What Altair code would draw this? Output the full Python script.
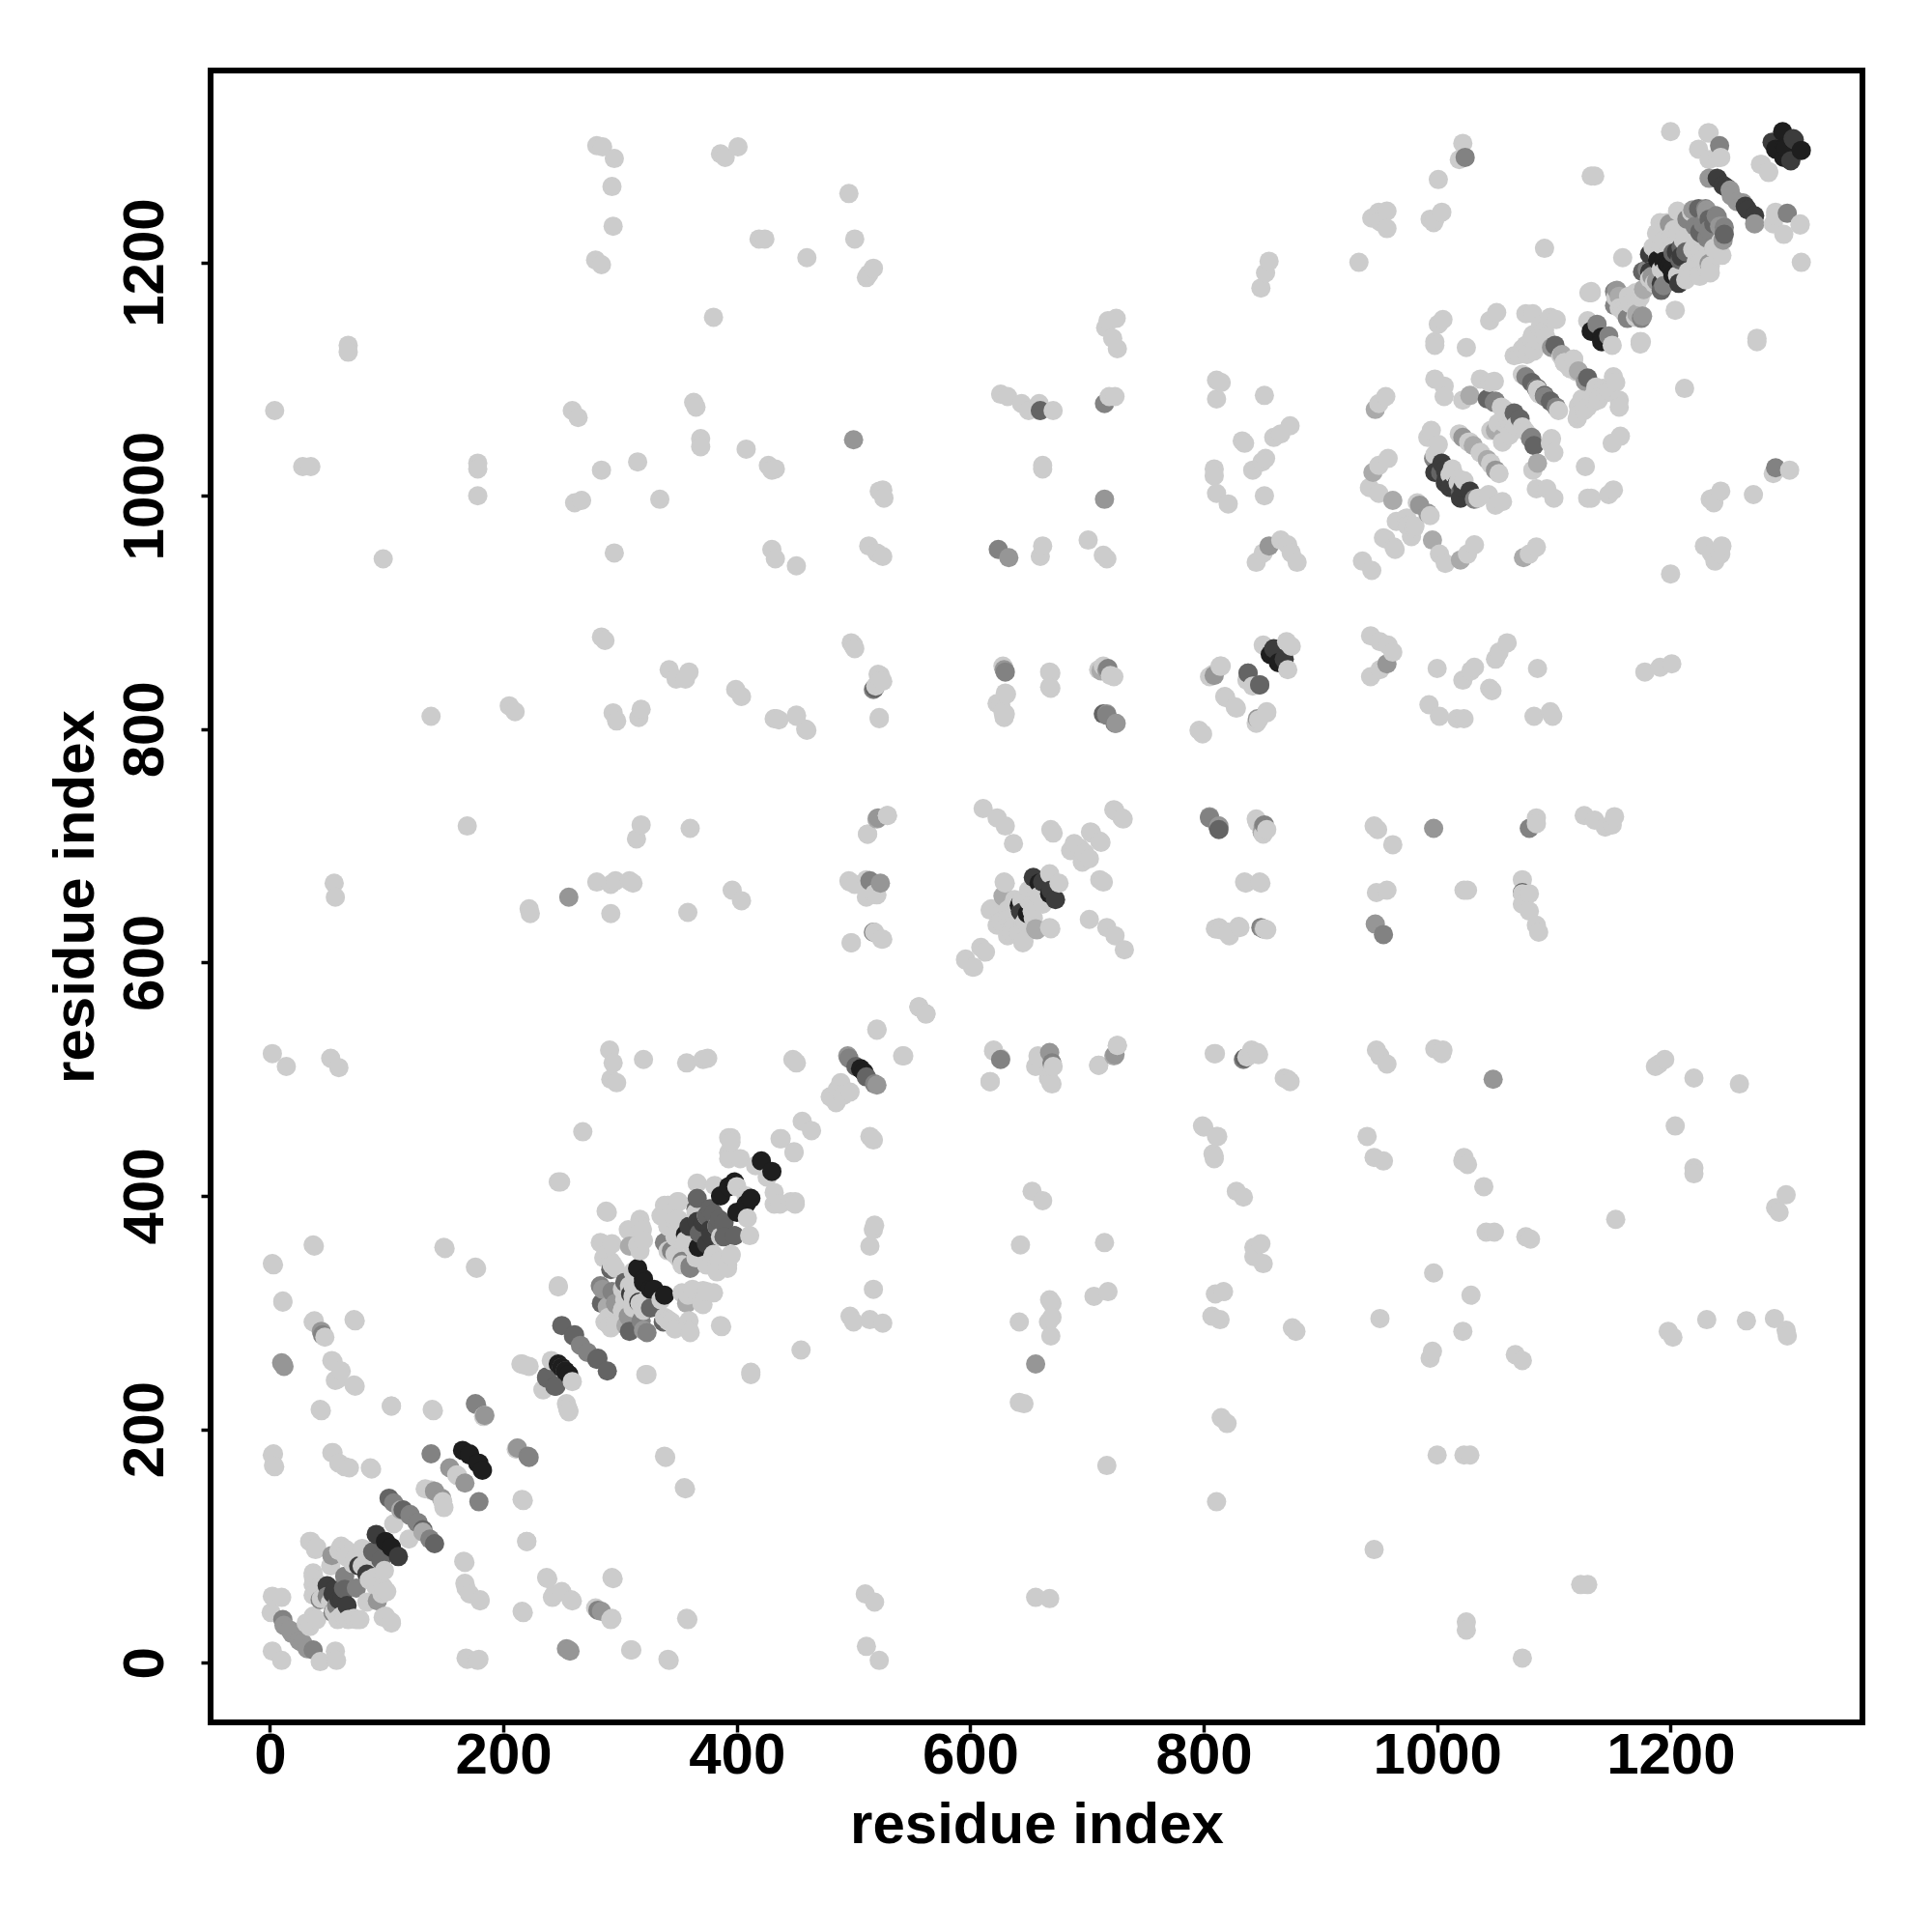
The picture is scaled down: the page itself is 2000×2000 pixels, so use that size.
import altair as alt
import pandas as pd

# Contacts (residue i, residue j) of a symmetric map, grouped by grey level
grey_204 = [
(280,1300),(285,1299),(295,1289),(293,1265),(294,1231),(279,1202),(284,1198),(386,1293),(390,1290),(401,1299),
(419,1220),(424,1220),(380,1153),(67,1129),(67,1123),(4,1073),(28,1025),(35,1025),(178,1028),(178,1023),(178,1000),
(259,1073),(264,1067),(363,1080),(365,1076),(369,1049),(369,1042),(408,1040),(284,1022),(315,1029),(334,997),
(261,994),(267,996),(295,951),(97,946),(496,1259),(501,1220),(460,1204),(517,1195),(513,1190),(511,1187),
(525,1005),(522,1004),(526,998),(427,1026),(430,1022),(433,1023),(430,954),(433,946),(451,940),(513,957),(520,951),(525,948),
(626,1087),(632,1085),(644,1079),(650,1073),(659,1079),(659,1073),(671,1073),(719,1085),(724,1085),(725,1152),(718,1150),
(716,1144),(722,1135),(726,1126),(662,1023),(662,1026),(701,962),(714,949),(717,946),(662,957),(660,948),
(811,1099),(815,1097),(811,1083),(852,1086),(856,1201),(853,1191),(849,1178),(833,1047),(835,1045),(874,1060),(866,1053),
(860,1050),(853,1032),(850,1029),(842,1022),(809,1023),(809,1017),(811,1002),(821,993),(852,1000),(845,943),(851,951),
(866,962),(872,958),(875,951),(880,943),
(1022,1302),(1019,1288),(1001,1271),(950,1243),(944,1238),(957,1244),(957,1229),(951,1235),(998,1237),(1004,1243),
(994,1237),(997,1234),(933,1200),(1092,1212),(1132,1274),(1135,1274),(1200,1312),(1159,1204),(1132,1174),(1130,1174),
(1051,1157),(1045,1150),(1076,1156),(1082,1156),(1005,1151),(1001,1147),(998,1132),(998,1129),(1025,1127),(1097,1153),
(1090,1147),(1082,1138),(1076,1129),(1070,1121),(1174,1132),(1175,1132),(1129,1150),(1233,1311),(1224,1297),(1233,1288),
(1243,1290),(1278,1284),(1284,1277),(1290,1240),(1311,1232),(1206,1244),(1194,1231),(1203,1228),(1188,1225),
(1212,1222),(1219,1211),(1224,1207),(1182,1192),(1159,1159),(1170,1174),(1165,1165),
(1088,1144),(1093,1136),(1106,1120),(1114,1109),(1117,1117),(1073,1104),(1091,1086),(1045,1097),(1057,1074),(1073,1059),
(1022,1082),(1006,1094),(998,1100),(1006,1085),(956,1085),(950,1079),(995,1056),(1001,1044),(1013,1023),(1018,1011),
(958,1032),(950,1026),(942,1007),(950,1002),(965,978),(974,981),(974,975),(980,972),(956,963),(964,954),(994,983),(936,944),
(284,879),(287,876),(138,811),(205,820),(210,815),(294,814),(297,807),(318,817),(316,810),(342,851),(348,843),(356,843),
(359,849),(399,834),(404,828),(169,717),(318,718),(314,706),(360,715),(55,668),(56,656),(222,646),(223,642),
(280,669),(292,667),(296,670),(308,670),(311,668),(292,642),(358,643),(396,662),(404,653),(2,522),(14,511),(52,518),(59,510),
(291,525),(294,514),(292,500),(297,497),(320,517),(357,514),(371,517),(375,518),(268,455),(395,450),(395,446),(393,432),
(500,872),(501,869),(523,846),(525,841),(519,837),(522,809),(434,809),(436,808),(451,811),(460,799),
(629,852),(630,831),(623,822),(630,813),(629,810),(669,848),(669,835),(710,851),(720,846),
(815,854),(805,845),(818,828),(827,819),(842,837),(854,814),(847,808),(796,799),(851,872),(871,875),
(529,726),(512,710),(496,670),(501,667),(520,658),(511,656),(498,617),(525,620),
(611,732),(623,724),(630,717),(637,702),(669,714),(671,711),(704,711),(712,703),(689,702),(686,696),(698,694),(724,730),(731,723),
(630,668),(668,676),(618,646),(626,635),(635,638),(650,653),(669,629),(609,613),(596,602),(603,596),(645,617),
(845,723),(854,714),(836,668),(849,668),(811,629),(821,626),(830,631),(854,628),(815,628),
(448,517),(451,514),(520,542),(543,520),(556,562),(562,556),(487,490),(480,485),(486,491),(489,497),(456,464),(438,449),(449,437),(516,449),
(620,524),(626,518),(617,498),(659,518),(671,511),(669,497),(726,529),(710,512),(810,522),(841,523),(847,521),(871,500),(874,498),
(800,459),(812,451),(809,432),
(249,412),(289,386),(150,355),(177,338),(38,357),(3,341),(11,309),(38,293),(73,293),(47,279),(53,259),(61,250),(56,242),
(73,237),(44,216),(104,220),(140,216),(184,212),(3,179),(4,168),(53,180),(59,171),(68,167),(86,167),(211,183),(217,139),(220,104),
(166,87),(168,64),(180,54),(238,72),(243,58),(258,54),(292,37),(294,72),(217,43),(310,11),(342,2),(358,37),(169,3),(178,2),
(339,176),(356,149),(323,247),(412,247),(216,256),(222,254),(255,218),(256,215),(387,288),(247,322),(259,241),(234,234),
(291,289),(294,341),(291,358),(285,359),(308,370),(318,374),(315,358),(309,320),(317,308),(366,411),(341,392),(350,395),(335,383),
(341,374),(347,350),(374,383),(362,356),(381,409),(393,450),(393,437),(403,432),(408,400),(416,426),
(106,119),(148,138),(133,149),(160,161),(79,98),(83,81),(35,104),(40,99),(59,96),(65,93),(38,72),(37,58),(40,37),(31,34),(10,56),(1,43),(2,10),(287,292),
(1037,1100),(1049,1098),(1055,1076),(1060,1067),(1052,1062),(1058,1062),(1046,1056),(1019,1053),(1027,1046),(1037,1037),(1046,1028),
(992,1050),(998,1035),(1019,1014),(1088,1087),(1081,1135),(1073,1126),(1066,1120),(1109,1114),(1121,1077),(1124,1083),(1134,1086),
(1142,1092),(1151,1102),(1191,1234),(1197,1234),(1200,1222),(1212,1237),(1218,1243),(1221,1213),(1227,1207),(1194,1219),(1185,1213),
(1194,1192),(1206,1189),(1215,1192),(1224,1189),(1164,1171),(1161,1156),(1170,1153),(1182,1186),
(302,320),(314,311),(304,311),(323,311),(302,302),(290,296),(338,296),(341,293),(359,293),(360,283),(353,317),(362,320),(371,319),(380,317),
(371,307),(338,392),(344,385),(347,379),(353,341),(374,341),(383,338),(395,349),(392,341),(380,350),(365,347),(365,386),(286,347),(292,344),
(335,311),(323,308),(311,308),(61,98),(73,89),(79,83),(85,71),(91,65),(97,65),(100,61),(37,77),(40,64),(55,44),(61,40),(52,52),(67,37),(74,37),
(97,39),(104,34),(52,83),(632,645),(638,632),(647,635),(653,644),(659,657),(650,662),(638,654),(626,641),(632,623),(642,626),(2,57),
]
grey_170 = [
(947,1074),(945,1020),(962,996),(1031,1043),(1028,1086),(1050,1056),(1156,1171),(1177,1177),(1121,1107),
(712,850),(657,628),(629,656),(520,723),(112,131),(305,289),(357,308),
]
grey_150 = [
(500,1048),(715,997),(633,947),(856,957),(1233,1272),(1251,1262),(1257,1252),(1245,1231),(985,992),(1022,1050),
(809,846),(717,813),(851,717),(523,668),(256,656),(11,256),(12,254),(725,805),(724,521),(257,10),(285,320),(297,307),(308,296),
(141,147),(154,167),(53,92),(17,28),(25,19),(32,12),(184,212),(44,284),(520,495),(851,629),
(1127,1098),(1242,1231),(1245,1219),(1233,1199),(1176,1154),(1188,1184),
]
grey_130 = [
(1024,1290),(1242,1300),(1214,1237),(1221,1231),(1230,1246),(1239,1240),(1152,1175),(1152,1163),(1137,1147),
(1085,1092),(1049,1080),(1081,1050),(997,1032),(630,849),(517,834),(624,954),(718,852),(514,670),(517,626),
(715,1079),(805,724),(812,717),(496,518),(281,45),(177,221),(222,176),(138,179),(43,54),
(340,360),(353,344),(360,338),(106,137),(120,126),(127,120),(64,74),(11,37),(266,272),(848,838),
(1076,1102),(1233,1228),(1194,1180),(318,293),(323,283),(49,57),
]
grey_100 = [
(1226,1225),(1202,1208),(1176,1192),(1101,1129),(1081,1097),(1092,1086),(1043,1083),(1066,1071),
(838,848),(714,813),(835,518),(502,511),(250,289),(261,281),(280,260),(253,250),(237,245),(244,237),
(284,308),(292,337),(102,141),(131,114),(88,95),(366,398),(380,385),(389,365),(368,368),(660,1073),
(1003,1020),(1224,1246),(1233,1237),(1209,1213),(304,326),(377,389),(383,374),(64,63),
]
grey_60 = [
(1240,1272),(1245,1266),(1264,1248),(1182,1207),(1182,1192),(1209,1205),(1004,1028),(998,1020),(1007,1011),(1022,1007),
(860,869),(654,673),(644,643),(669,662),(316,309),(366,378),(91,110),(76,83),(49,66),(59,54),(55,62),
(1287,1303),(1305,1306),(1010,1017),(1016,1008),(359,374),(371,377),
]
grey_30 = [
(1296,1312),(1290,1297),(1298,1299),(1189,1202),(1194,1201),(1197,1199),(857,864),(659,668),(642,649),(1132,1141),(1141,1136),
(315,338),(320,329),(326,320),(356,367),(393,408),(398,412),(421,430),(386,400),(165,182),(171,179),(178,171),(99,104),
(247,256),(250,253),(509,506),
]

axis_ticks = [0, 200, 400, 600, 800, 1000, 1200]
x_domain = [-50.9, 1364.4]
y_domain = [-51.1, 1364.4]

groups = [(grey_204, 204), (grey_170, 170), (grey_150, 150), (grey_130, 130),
          (grey_100, 100), (grey_60, 60), (grey_30, 30)]
rows = []
for pairs, g in groups:
    for i, j in pairs:
        rows.append({"x": i, "y": j, "g": g})
        rows.append({"x": j, "y": i, "g": g})
df = pd.DataFrame(rows)
df["shade"] = ["rgb(%d,%d,%d)" % (g, g, g) for g in df["g"]]
df = df.sort_values(["x", "y"], ascending=[True, False]).reset_index(drop=True)
df["rank"] = range(len(df))

font = "Liberation Sans"
common = dict(grid=False, domain=False, labelFontSize=60, titleFontSize=60,
              labelFontWeight="bold", titleFontWeight="bold", labelFont=font, titleFont=font,
              labelColor="black", titleColor="black", tickColor="black", tickWidth=3.5, tickSize=10,
              format="d", labelFlush=False, labelOverlap=False, title="residue index", values=axis_ticks)
chart = (
    alt.Chart(df)
    .mark_circle(size=400, opacity=1)
    .encode(
        x=alt.X("x:Q", scale=alt.Scale(domain=x_domain, nice=False, zero=False),
                axis=alt.Axis(labelPadding=-5, titlePadding=13, **common)),
        y=alt.Y("y:Q", scale=alt.Scale(domain=y_domain, nice=False, zero=False),
                axis=alt.Axis(labelAngle=270, labelAlign="center", labelBaseline="bottom",
                              labelPadding=26.5, titlePadding=11, **common)),
        color=alt.Color("shade:N", scale=None, legend=None),
        order=alt.Order("rank:Q"),
    )
    .properties(width=1710, height=1710, padding={"left": 40, "top": 65, "right": 5, "bottom": 5})
    .configure_view(stroke="black", strokeWidth=6)
)
chart.save("out.html", embed_options={"renderer": "svg", "actions": False})
